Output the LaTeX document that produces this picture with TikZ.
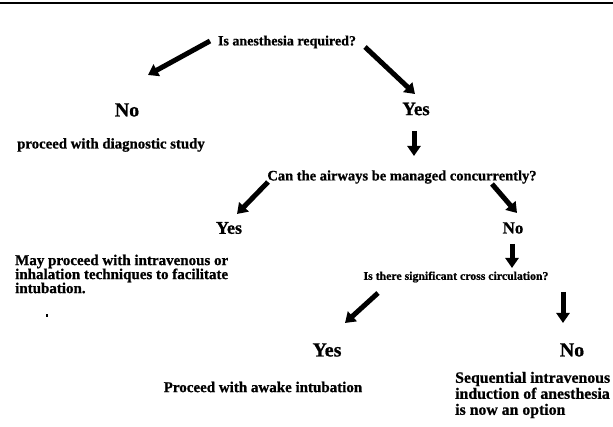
\documentclass[tikz,border=0pt]{standalone}
\usepackage{fontspec}
\setmainfont{Liberation Serif}[BoldFeatures={FakeBold=0.8}]
\usetikzlibrary{arrows.meta}
\tikzset{
  fatarrow/.style={line width=5pt, -{Triangle[length=10pt,width=13pt]}},
  txt/.style={inner sep=0pt, font=\bfseries},
  big/.style={inner sep=0pt, font=\bfseries\fontsize{19}{19}\selectfont},
}
\begin{document}
\begin{tikzpicture}[x=1pt,y=-1pt]
\useasboundingbox (0,0) rectangle (613,427);
\draw[line width=2pt] (0,3.5) -- (613,3.5);

% texts
\node[txt, font=\bfseries\fontsize{14}{14}\selectfont] (q1) at (287,42) {Is anesthesia required?};
\node[big, font=\bfseries\fontsize{20}{20}\selectfont] (no1) at (127,110) {No};
\node[big] (yes1) at (416,109) {Yes};
\node[txt, font=\bfseries\fontsize{14.8}{15}\selectfont] (p1) at (111,145) {proceed with diagnostic study};
\node[txt, font=\bfseries\fontsize{14.5}{15}\selectfont] (q2) at (402,177) {Can the airways be managed concurrently?};
\node[big, font=\bfseries\fontsize{18}{18}\selectfont] (yes2) at (229,228) {Yes};
\node[big, font=\bfseries\fontsize{17}{17}\selectfont] (no2) at (513,228) {No};
\node[txt, anchor=west, align=left, font=\bfseries\fontsize{15}{14}\selectfont] (may) at (15,274)
  {May proceed with intravenous or\\inhalation techniques to facilitate\\intubation.};
\fill (46,314) rectangle (48,317);
\node[txt, font=\bfseries\fontsize{11.8}{12}\selectfont] (q3) at (456,277) {Is there significant cross circulation?};
\node[big, font=\bfseries\fontsize{20}{20}\selectfont] (yes3) at (327,350) {Yes};
\node[big, font=\bfseries\fontsize{20}{20}\selectfont] (no3) at (572,350) {No};
\node[txt, font=\bfseries\fontsize{15}{15}\selectfont] (p3) at (263,387) {Proceed with awake intubation};
\node[txt, anchor=west, align=left, font=\bfseries\fontsize{15.8}{16}\selectfont] (seq) at (455,395)
  {Sequential intravenous\\induction of anesthesia\\is now an option};

% arrow endpoints
\coordinate (a1s) at (210,41);  \coordinate (a1e) at (148,75);
\coordinate (a2s) at (365,47);  \coordinate (a2e) at (415,94);
\coordinate (a3s) at (414,131); \coordinate (a3e) at (414,156);
\coordinate (a4s) at (268,182); \coordinate (a4e) at (237,214);
\coordinate (a5s) at (492,184); \coordinate (a5e) at (517,213);
\coordinate (a6s) at (512,244); \coordinate (a6e) at (512,268);
\coordinate (a7s) at (378,293); \coordinate (a7e) at (345,323);
\coordinate (a8s) at (563,292); \coordinate (a8e) at (563,323);

\draw[fatarrow] (a1s) -- (a1e);
\draw[fatarrow] (a2s) -- (a2e);
\draw[fatarrow] (a3s) -- (a3e);
\draw[fatarrow] (a4s) -- (a4e);
\draw[fatarrow] (a5s) -- (a5e);
\draw[fatarrow] (a6s) -- (a6e);
\draw[fatarrow] (a7s) -- (a7e);
\draw[fatarrow] (a8s) -- (a8e);
\end{tikzpicture}
\end{document}
